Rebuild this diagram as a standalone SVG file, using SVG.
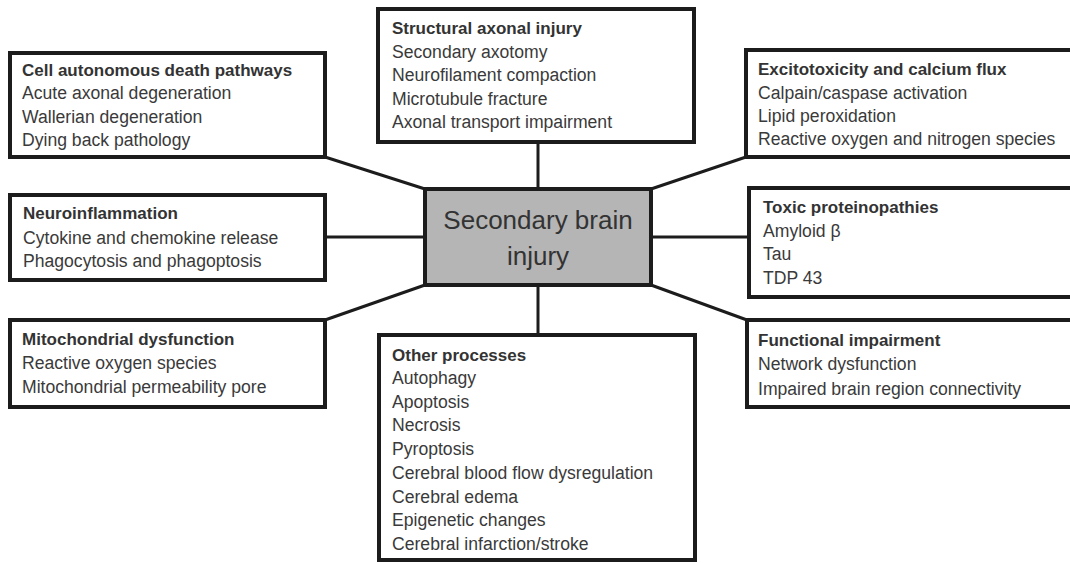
<svg xmlns="http://www.w3.org/2000/svg" width="1070" height="563" viewBox="0 0 1070 563">
<style>
.box{fill:#fff;stroke:#1c1c1c;stroke-width:4}
.center{fill:#b5b5b5;stroke:#1c1c1c;stroke-width:4}
.conn{stroke:#1c1c1c;stroke-width:3;fill:none}
text{font-family:"Liberation Sans",Arial,sans-serif;fill:#3a3a3a}
.t{font-weight:bold;font-size:17px;fill:#333}
.l{font-size:17.6px}
.c{font-size:26px;fill:#333;text-anchor:middle}
</style>
<rect width="1070" height="563" fill="#fff"/>
<g id="connectors">
<line class="conn" x1="538" y1="142" x2="538" y2="189"/>
<line class="conn" x1="538" y1="285" x2="538" y2="335"/>
<line class="conn" x1="325" y1="237" x2="425" y2="237"/>
<line class="conn" x1="651" y1="237" x2="749" y2="237"/>
<line class="conn" x1="325" y1="157" x2="425" y2="189"/>
<line class="conn" x1="746" y1="157" x2="651" y2="189"/>
<line class="conn" x1="325" y1="320" x2="425" y2="285"/>
<line class="conn" x1="747" y1="320" x2="651" y2="285"/>
</g>
<g id="center">
<rect class="center" x="425" y="189" width="226" height="96"/>
<text class="c" x="538" y="229">Secondary brain</text>
<text class="c" x="538" y="265">injury</text>
</g>
<g id="cell-autonomous">
<rect class="box" x="10" y="53" width="315" height="104"/>
<text class="t" x="22" y="76">Cell autonomous death pathways</text>
<text class="l" x="22" y="99">Acute axonal degeneration</text>
<text class="l" x="22" y="122.5">Wallerian degeneration</text>
<text class="l" x="22" y="145.5">Dying back pathology</text>
</g>
<g id="structural">
<rect class="box" x="378" y="9" width="316" height="133"/>
<text class="t" x="392" y="34">Structural axonal injury</text>
<text class="l" x="392" y="57.5">Secondary axotomy</text>
<text class="l" x="392" y="81">Neurofilament compaction</text>
<text class="l" x="392" y="104.5">Microtubule fracture</text>
<text class="l" x="392" y="128">Axonal transport impairment</text>
</g>
<g id="excitotoxicity">
<rect class="box" x="746" y="50" width="330" height="107"/>
<text class="t" x="758" y="75">Excitotoxicity and calcium flux</text>
<text class="l" x="758" y="98.5">Calpain/caspase activation</text>
<text class="l" x="758" y="122">Lipid peroxidation</text>
<text class="l" x="758" y="145">Reactive oxygen and nitrogen species</text>
</g>
<g id="neuroinflammation">
<rect class="box" x="10" y="195" width="315" height="85"/>
<text class="t" x="23" y="219">Neuroinflammation</text>
<text class="l" x="23" y="243.5">Cytokine and chemokine release</text>
<text class="l" x="23" y="267">Phagocytosis and phagoptosis</text>
</g>
<g id="toxic">
<rect class="box" x="749" y="188" width="330" height="109"/>
<text class="t" x="763" y="213">Toxic proteinopathies</text>
<text class="l" x="763" y="237">Amyloid β</text>
<text class="l" x="763" y="260">Tau</text>
<text class="l" x="763" y="284">TDP 43</text>
</g>
<g id="mitochondrial">
<rect class="box" x="10" y="320" width="315" height="87"/>
<text class="t" x="22" y="345">Mitochondrial dysfunction</text>
<text class="l" x="22" y="369">Reactive oxygen species</text>
<text class="l" x="22" y="393">Mitochondrial permeability pore</text>
</g>
<g id="functional">
<rect class="box" x="747" y="320" width="330" height="87"/>
<text class="t" x="758" y="346">Functional impairment</text>
<text class="l" x="758" y="370">Network dysfunction</text>
<text class="l" x="758" y="395">Impaired brain region connectivity</text>
</g>
<g id="other">
<rect class="box" x="379" y="335" width="316" height="225"/>
<text class="t" x="392" y="361">Other processes</text>
<text class="l" x="392" y="384">Autophagy</text>
<text class="l" x="392" y="407.5">Apoptosis</text>
<text class="l" x="392" y="431">Necrosis</text>
<text class="l" x="392" y="455">Pyroptosis</text>
<text class="l" x="392" y="479">Cerebral blood flow dysregulation</text>
<text class="l" x="392" y="502.5">Cerebral edema</text>
<text class="l" x="392" y="526">Epigenetic changes</text>
<text class="l" x="392" y="550">Cerebral infarction/stroke</text>
</g>
</svg>
